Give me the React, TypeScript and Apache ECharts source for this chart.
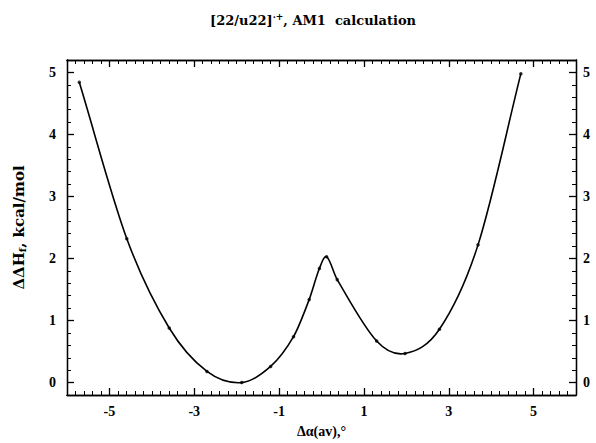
import React, { useEffect, useRef } from "react";
import * as echarts from "echarts";

const xValues = [-5.71, -4.59, -3.59, -2.7, -1.88, -1.2, -0.66, -0.29, -0.05, 0.12, 0.37, 1.3, 1.97, 2.78, 3.69, 4.7];
const yValues = [4.84, 2.32, 0.88, 0.18, 0.0, 0.26, 0.74, 1.34, 1.84, 2.03, 1.66, 0.67, 0.47, 0.86, 2.22, 4.98];
const xTickLabels = [-5, -3, -1, 1, 3, 5];
const yTickLabels = [0, 1, 2, 3, 4, 5];

const FONT = "Liberation Serif, Times New Roman, serif";
const TITLE_FONT = "DejaVu Serif, serif";

function curvePath(pts: number[][]): string {
  // Hermite spline through the pixel positions of the data points
  const n = pts.length;
  const m: number[] = [];
  for (let i = 0; i < n; i++) {
    const a = pts[Math.max(0, i - 1)];
    const b = pts[Math.min(n - 1, i + 1)];
    m.push((b[1] - a[1]) / (b[0] - a[0]));
  }
  let d = `M${pts[0][0]},${pts[0][1]}`;
  for (let i = 0; i < n - 1; i++) {
    const p = pts[i];
    const q = pts[i + 1];
    const h = q[0] - p[0];
    d += ` C${p[0] + h / 3},${p[1] + (m[i] * h) / 3} ${q[0] - h / 3},${q[1] - (m[i + 1] * h) / 3} ${q[0]},${q[1]}`;
  }
  return d;
}

export default function App() {
  const ref = useRef<HTMLDivElement>(null);
  useEffect(() => {
    if (!ref.current) return;
    const chart = echarts.init(ref.current, null, { renderer: "svg" });
    const data = xValues.map((x, i) => [x, yValues[i]]);
    const lineStyle = { color: "#000", width: 1.3 };
    const thin = { color: "#000", width: 1 };
    const labelStyle = { color: "#000", fontFamily: FONT, fontWeight: "bold" as const, fontSize: 14 };
    const majorX = (pos: "bottom" | "top", labels: boolean) => ({
      type: "value",
      position: pos,
      min: -6,
      max: 6,
      axisLine: { show: true, onZero: false, lineStyle },
      splitLine: { show: false },
      axisTick: { show: true, inside: true, length: 7, customValues: xTickLabels, lineStyle },
      axisLabel: labels
        ? { show: true, customValues: xTickLabels, margin: 9, ...labelStyle }
        : { show: false },
    });
    const minorX = (pos: "bottom" | "top") => ({
      type: "value",
      position: pos,
      min: -6,
      max: 6,
      interval: 0.2,
      axisLine: { show: true, onZero: false, lineStyle },
      splitLine: { show: false },
      axisTick: { show: true, inside: true, length: 4, lineStyle: thin },
      axisLabel: { show: false },
    });
    const majorY = (pos: "left" | "right") => ({
      type: "value",
      position: pos,
      min: -0.2,
      max: 5.2,
      axisLine: { show: true, onZero: false, lineStyle },
      splitLine: { show: false },
      axisTick: { show: true, inside: true, length: 7, customValues: yTickLabels, lineStyle },
      axisLabel: { show: true, customValues: yTickLabels, margin: pos === "left" ? 11 : 7, ...labelStyle },
    });
    const minorY = (pos: "left" | "right") => ({
      type: "value",
      position: pos,
      min: -0.2,
      max: 5.2,
      interval: 0.2,
      axisLine: { show: true, onZero: false, lineStyle },
      splitLine: { show: false },
      axisTick: { show: true, inside: true, length: 4, lineStyle: thin },
      axisLabel: { show: false },
    });
    const xa0: any = majorX("bottom", true);
    xa0.name = "Δα(av),°";
    xa0.nameLocation = "middle";
    xa0.nameGap = 29;
    xa0.nameTextStyle = { ...labelStyle, fontSize: 14 };
    const ya0: any = majorY("left");
    ya0.name = "ΔΔH{sub|f}, kcal/mol";
    ya0.nameLocation = "middle";
    ya0.nameGap = 40;
    ya0.nameTextStyle = {
      ...labelStyle,
      fontFamily: TITLE_FONT,
      fontSize: 15,
      rich: { sub: { ...labelStyle, fontFamily: TITLE_FONT, fontSize: 10, verticalAlign: "bottom", padding: [7, 0, 0, 0] } },
    };
    chart.setOption({
      animation: false,
      backgroundColor: "#fff",
      title: {
        text: "[22/u22]{sup|·+}, AM1  calculation",
        left: 308,
        textAlign: "center",
        top: 7,
        textStyle: {
          color: "#000",
          fontFamily: TITLE_FONT,
          fontWeight: "bold",
          fontSize: 13,
          rich: { sup: { color: "#000", fontFamily: TITLE_FONT, fontWeight: "bold", fontSize: 9, padding: [0, 0, 8, 0] } },
        },
      },
      grid: { left: 67, right: 20, top: 60, bottom: 48, containLabel: false },
      xAxis: [xa0, majorX("top", false), minorX("bottom"), minorX("top")],
      yAxis: [ya0, majorY("right"), minorY("left"), minorY("right")],
      series: [
        {
          type: "custom",
          xAxisIndex: 0,
          yAxisIndex: 0,
          data,
          encode: { x: 0, y: 1 },
          silent: true,
          renderItem: (params: any, api: any) => {
            if (params.dataIndex !== 0) return null;
            const pts = data.map((p) => api.coord(p));
            return {
              type: "path",
              shape: { pathData: curvePath(pts) },
              style: { stroke: "#000", fill: "none", lineWidth: 1.6 },
            };
          },
        },
        {
          type: "scatter",
          xAxisIndex: 0,
          yAxisIndex: 0,
          data,
          symbol: "circle",
          symbolSize: 3.5,
          itemStyle: { color: "#000" },
        },
      ],
    });
    return () => chart.dispose();
  }, []);
  return <div ref={ref} style={{ position: "fixed", left: 0, top: 0, width: 596, height: 443 }} />;
}
